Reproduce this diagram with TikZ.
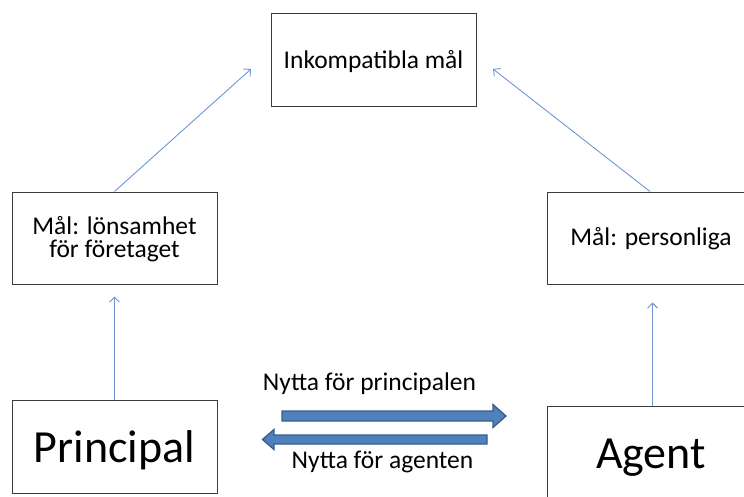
\documentclass[tikz,border=0pt]{standalone}
\usepackage{fontspec}
\setmainfont{Carlito}
\usetikzlibrary{arrows.meta}
\definecolor{boxline}{RGB}{60,60,60}
\definecolor{thinblue}{RGB}{110,150,210}
\definecolor{blockfill}{RGB}{79,129,189}
\definecolor{blockedge}{RGB}{56,93,138}
\tikzset{
  box/.style={draw=boxline, line width=1pt, rectangle, inner sep=0pt, align=center,
              font=\fontsize{25.5}{22.5}\selectfont},
  bigbox/.style={box, font=\fontsize{46}{50}\selectfont},
  thinarrow/.style={draw=thinblue, line width=0.9pt, -{Straight Barb[length=5pt,width=10pt]}},
  blockarrow/.style={fill=blockfill, draw=blockedge, line width=1.3pt, line join=miter},
  lbl/.style={anchor=base, inner sep=0pt, font=\fontsize{25.5}{22}\selectfont}
}
\begin{document}
\begin{tikzpicture}[x=1pt, y=-1pt]
\useasboundingbox (0,0) rectangle (744,496);
\clip (0,0) rectangle (744,496);

% boxes
\node[box, minimum width=205, minimum height=93, text height=20, text depth=3]
  (goal) at (373.5,59.5) {Inkompatibla mål};
\node[box, minimum width=205, minimum height=92]
  (lg) at (114.5,238) {\rule{0pt}{20pt}Mål: lönsamhet\\för företaget};
\node[box, minimum width=208, minimum height=92, text height=19, text depth=5]
  (rg) at (651,238) {Mål: personliga};
\node[bigbox, minimum width=205, minimum height=93, text height=36, text depth=5]
  (prin) at (114.5,446.5) {Principal};
\node[bigbox, minimum width=208, minimum height=93, text height=36, text depth=5]
  (agent) at (651,452.5) {Agent};

% free ends of the diagonal connectors
\coordinate (gl) at (251,69);
\coordinate (gr) at (493,69);

% thin connectors
\draw[thinarrow, shorten >=12pt] (prin.north) -- (lg.south);
\draw[thinarrow, shorten >=18pt] ([xshift=1.5pt]agent.north) -- ([xshift=1.5pt]rg.south);
\draw[thinarrow] (lg.north) -- (gl);
\draw[thinarrow] ([xshift=-1pt]rg.north) -- (gr);

% block arrows
\draw[blockarrow] (282,411) -- (493,411) -- (493,404.5) -- (506,416) -- (493,427.5)
  -- (493,421) -- (282,421) -- cycle;
\draw[blockarrow] (487,435) -- (274,435) -- (274,429.5) -- (262.5,439.5) -- (274,449.5)
  -- (274,444) -- (487,444) -- cycle;

% labels
\node[lbl] (lp) at (369.5,390) {Nytta för principalen};
\node[lbl] (la) at (382.5,468) {Nytta för agenten};
\end{tikzpicture}
\end{document}
